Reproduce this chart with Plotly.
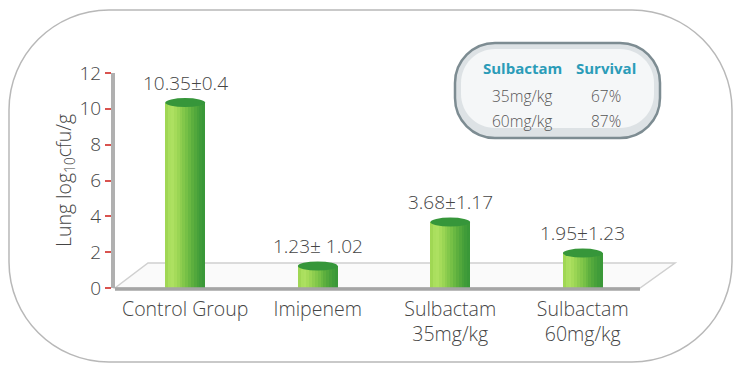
import plotly.graph_objects as go

# ---- data ----
categories = ["Control Group", "Imipenem", "Sulbactam<br>35mg/kg", "Sulbactam<br>60mg/kg"]
values = [10.35, 1.23, 3.68, 1.95]
value_labels = ["10.35±0.4", "1.23± 1.02", "3.68±1.17", "1.95±1.23"]
y_ticks = [0, 2, 4, 6, 8, 10, 12]
table_header = ["Sulbactam", "Survival"]
table_doses = ["35mg/kg", "60mg/kg"]
table_survival = ["67%", "87%"]

# ---- geometry helpers (layout decoration only) ----
W, H = 741, 372
ML, MR, MT, MB = 115, 92, 73, 84
PW, PH = W - ML - MR, H - MT - MB

def px(x):
    return (x - ML) / PW

def py(y):
    return (H - MB - y) / PH

def rounded_rect(x0, y0, x1, y1, r):
    k = 0.5523 * r
    pts = [
        f"M {px(x0 + r)} {py(y0)}",
        f"L {px(x1 - r)} {py(y0)}",
        f"C {px(x1 - r + k)} {py(y0)} {px(x1)} {py(y0 + r - k)} {px(x1)} {py(y0 + r)}",
        f"L {px(x1)} {py(y1 - r)}",
        f"C {px(x1)} {py(y1 - r + k)} {px(x1 - r + k)} {py(y1)} {px(x1 - r)} {py(y1)}",
        f"L {px(x0 + r)} {py(y1)}",
        f"C {px(x0 + r - k)} {py(y1)} {px(x0)} {py(y1 - r + k)} {px(x0)} {py(y1 - r)}",
        f"L {px(x0)} {py(y0 + r)}",
        f"C {px(x0)} {py(y0 + r - k)} {px(x0 + r - k)} {py(y0)} {px(x0 + r)} {py(y0)}",
        "Z",
    ]
    return " ".join(pts)

FONT = "Open Sans"
TXT = "#454545"

fig = go.Figure()

# cylinder shading: several narrow overlaid bars per category
shades = ["#a0d754", "#aadf5e", "#ade061", "#a5db5a", "#9ad554", "#8ecd4f",
          "#82c74a", "#76c046", "#69b842", "#5daf3e", "#52a83c", "#48a13a",
          "#409c39", "#3a9838"]
BW = 0.30
N = len(shades)
for i, c in enumerate(shades):
    fig.add_trace(go.Bar(
        x=categories, y=values,
        offset=-BW / 2 + i * BW / N, width=BW / N * 1.1,
        marker=dict(color=c, line=dict(width=0)),
        showlegend=False, hoverinfo="skip",
    ))

shapes = []
# outer rounded border
shapes.append(dict(type="path", xref="paper", yref="paper",
                   path=rounded_rect(9, 10, 732, 362, 100),
                   line=dict(color="#b8b8b8", width=1.5), fillcolor="rgba(0,0,0,0)",
                   layer="below"))
# floor parallelogram
floor = (f"M {px(115)} {py(288)} L {px(640)} {py(288)} L {px(675)} {py(263)} "
         f"L {px(148)} {py(263)} Z")
shapes.append(dict(type="path", xref="paper", yref="paper", path=floor,
                   line=dict(color="#d0d0d0", width=1.5), fillcolor="#fafafa", layer="below"))
shapes.append(dict(type="line", xref="paper", yref="paper",
                   x0=px(115), y0=py(289), x1=px(640), y1=py(289),
                   line=dict(color="#a5a5a5", width=3.5)))
# cylinder tops
for i, v in enumerate(values):
    shapes.append(dict(type="circle", xref="x", yref="y",
                       x0=i - BW / 2, x1=i + BW / 2,
                       ysizemode="pixel", yanchor=v, y0=-4.5, y1=4.5,
                       fillcolor="#36963a", line=dict(width=0)))
# survival table box
shapes.append(dict(type="path", xref="paper", yref="paper",
                   path=rounded_rect(455, 43, 660, 138, 40),
                   line=dict(color="#7d8c92", width=2.5), fillcolor="#dde2e5"))
shapes.append(dict(type="path", xref="paper", yref="paper",
                   path=rounded_rect(461, 49, 654, 128, 34),
                   line=dict(width=0), fillcolor="#f5f7f8"))

annotations = []
for i, (v, t) in enumerate(zip(values, value_labels)):
    annotations.append(dict(x=i, y=v, xref="x", yref="y", text=t, showarrow=False,
                            xanchor="center", yanchor="bottom", yshift=5,
                            font=dict(family=FONT, size=19, color=TXT, weight=300)))
# table text
col_x = [522, 606]
for cx, h in zip(col_x, table_header):
    annotations.append(dict(x=px(cx), y=py(68), xref="paper", yref="paper", text=f"<b>{h}</b>",
                            xanchor="center", yanchor="middle",
                            showarrow=False, font=dict(family=FONT, size=15, color="#2b9cb8")))
for r, (d, s) in enumerate(zip(table_doses, table_survival)):
    yy = 96 + r * 25
    annotations.append(dict(x=px(col_x[0]), y=py(yy), xref="paper", yref="paper", text=d,
                            xanchor="center", yanchor="middle",
                            showarrow=False, font=dict(family=FONT, size=15.5, color="#555", weight=300)))
    annotations.append(dict(x=px(col_x[1]), y=py(yy), xref="paper", yref="paper", text=s,
                            xanchor="center", yanchor="middle",
                            showarrow=False, font=dict(family=FONT, size=15.5, color="#555", weight=300)))

fig.update_layout(
    width=W, height=H, autosize=False,
    margin=dict(l=ML, r=MR, t=MT, b=MB),
    paper_bgcolor="white", plot_bgcolor="rgba(0,0,0,0)",
    barmode="overlay", bargap=0,
    shapes=shapes, annotations=annotations,
    font=dict(family=FONT, color=TXT, weight=300),
    xaxis=dict(type="category", range=[-0.53, 3.5], showgrid=False, zeroline=False,
               showline=False, ticks="", tickfont=dict(size=19.5, color=TXT, weight=300),
               ticklabelstandoff=7),
    yaxis=dict(range=[0, 12], tickvals=y_ticks, showgrid=False, zeroline=False,
               showline=True, linecolor="#b0b0b0", linewidth=4,
               ticks="outside", ticklen=6, tickwidth=2, tickcolor="#d9534f",
               tickfont=dict(size=19, color=TXT, weight=300),
               title=dict(text="Lung log<sub>10</sub>cfu/g",
                          font=dict(size=19.5, color=TXT, weight=300), standoff=4)),
)

fig.write_html("out.html", config={"displayModeBar": False},
               post_script="document.body.style.margin='0';")
